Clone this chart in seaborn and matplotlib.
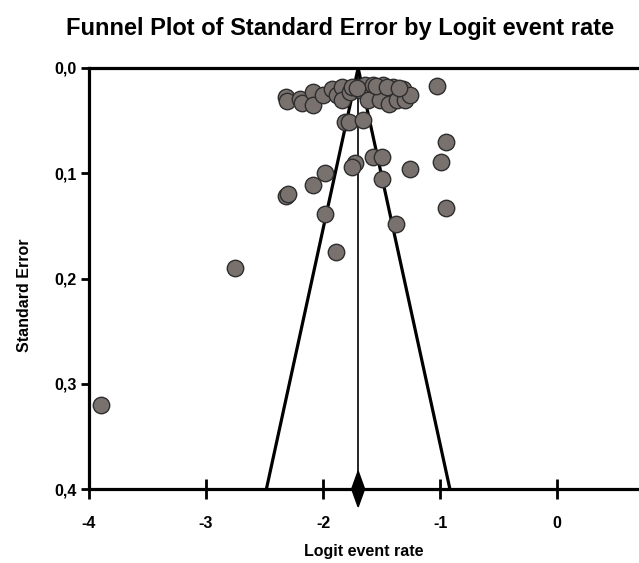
import matplotlib
matplotlib.use("Agg")
import matplotlib.pyplot as plt
import seaborn as sns
import pandas as pd
import numpy as np

# Study-level data: logit event rate and its standard error
logit_rate = [
    -3.90, -2.75, -2.32, -2.30, -1.89, -2.09, -1.98, -1.98, -1.73, -1.75,
    -1.81, -1.78, -1.66, -1.57, -1.50, -1.50, -1.38, -1.26, -0.99, -0.95,
    -0.95, -1.03,
    -2.32, -2.31, -2.20, -2.18, -2.09, -2.09, -2.00, -1.92, -1.88, -1.84,
    -1.84, -1.77, -1.75, -1.68, -1.62, -1.64, -1.57, -1.49, -1.40, -1.32,
    -1.62, -1.51, -1.44, -1.37, -1.30, -1.26, -1.71, -1.55, -1.45, -1.35,
]
std_error = [
    0.320, 0.190, 0.122, 0.120, 0.175, 0.111, 0.100, 0.139, 0.0905, 0.094,
    0.051, 0.051, 0.049, 0.085, 0.085, 0.105, 0.148, 0.096, 0.089, 0.070,
    0.133, 0.017,
    0.028, 0.031, 0.029, 0.033, 0.023, 0.035, 0.026, 0.020, 0.026, 0.018,
    0.030, 0.023, 0.018, 0.021, 0.017, 0.016, 0.016, 0.016, 0.018, 0.020,
    0.030, 0.030, 0.034, 0.030, 0.030, 0.026, 0.019, 0.017, 0.018, 0.019,
]

pooled = -1.70
pooled_ci = [-1.755, -1.645]
x_ticks = [-4, -3, -2, -1, 0]
x_ticklabels = ["-4", "-3", "-2", "-1", "0"]
y_ticks = [0.0, 0.1, 0.2, 0.3, 0.4]
y_ticklabels = ["0,0", "0,1", "0,2", "0,3", "0,4"]

df = pd.DataFrame({"logit": logit_rate, "se": std_error})

sns.set_style("white")
plt.rcParams["font.family"] = ["Liberation Sans", "DejaVu Sans"]
plt.rcParams["text.color"] = "black"
plt.rcParams["axes.labelcolor"] = "black"
plt.rcParams["xtick.color"] = "black"
plt.rcParams["ytick.color"] = "black"

fig = plt.figure(figsize=(6.39, 5.63), dpi=100)
ax = fig.add_axes([89 / 639, 1 - 489 / 563, 1 - 89 / 639, (489 - 68) / 563])

# Funnel lines
se_max = 0.4
ax.plot([pooled, pooled - 1.96 * se_max], [0, se_max], color="black", lw=2.3, zorder=2)
ax.plot([pooled, pooled + 1.96 * se_max], [0, se_max], color="black", lw=2.3, zorder=2)
ax.plot([pooled, pooled], [0, se_max], color="black", lw=1.2, zorder=2)

sns.scatterplot(data=df, x="logit", y="se", ax=ax, s=140, color="#78716e",
                edgecolor="#2e2e2e", linewidth=1.0, zorder=3, legend=False)

# Pooled diamond
dh = 0.017
ax.fill([pooled_ci[0], pooled, pooled_ci[1], pooled],
        [se_max, se_max - dh, se_max, se_max + dh],
        color="black", clip_on=False, zorder=5)

ax.set_xlim(-4, 0.70)
ax.set_ylim(0.4, 0.0)
ax.set_xticks(x_ticks)
ax.set_xticklabels(x_ticklabels, fontsize=11.5, fontweight="bold", color="black")
ax.set_yticks(y_ticks)
ax.set_yticklabels(y_ticklabels, fontsize=11.5, fontweight="bold", color="black")
ax.tick_params(axis="x", direction="inout", length=15, width=2.0, pad=12, bottom=True,
               colors="black")
ax.tick_params(axis="y", direction="out", length=6, width=2.0, pad=3, left=True,
               colors="black")

for side in ["left", "top", "bottom"]:
    ax.spines[side].set_visible(True)
    ax.spines[side].set_linewidth(2.3)
    ax.spines[side].set_color("black")
ax.spines["right"].set_visible(False)

ax.set_xlabel("Logit event rate", fontsize=11.5, fontweight="bold", labelpad=9,
              color="black")
ax.set_ylabel("Standard Error", fontsize=11.5, fontweight="bold", color="black")
ax.yaxis.set_label_coords(-0.103, 0.461)

fig.text(340 / 639, 1 - 35 / 563, "Funnel Plot of Standard Error by Logit event rate",
         ha="center", va="baseline", fontsize=17, fontweight="bold", color="black")

fig.savefig("out.png", dpi=100)
